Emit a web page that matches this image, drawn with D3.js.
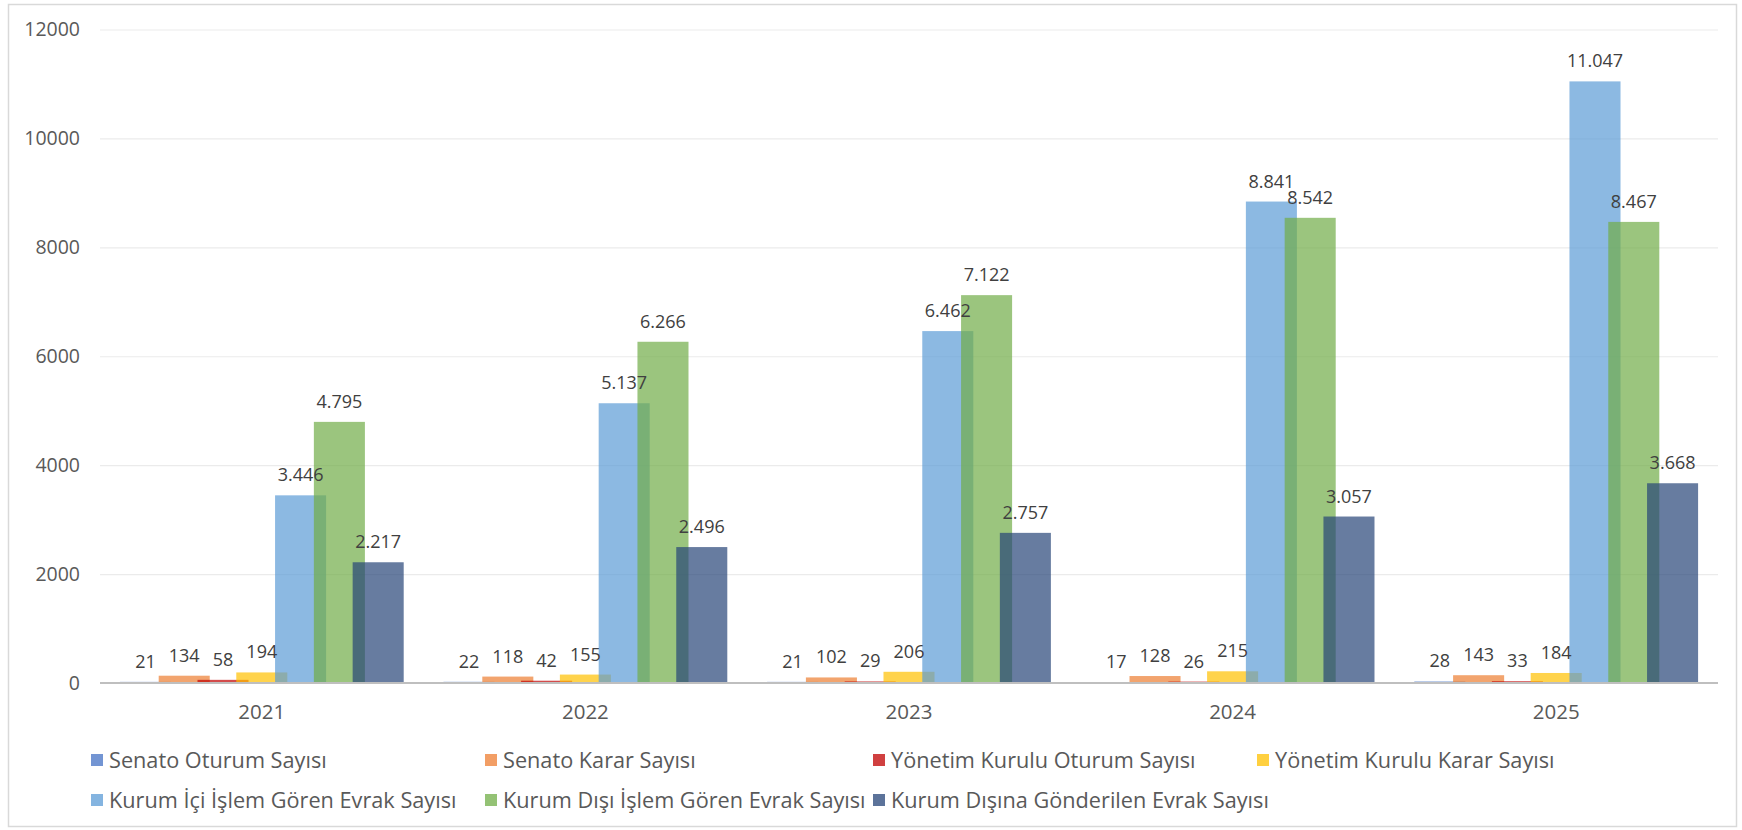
<!DOCTYPE html>
<html lang="tr">
<head>
<meta charset="utf-8">
<script src="https://cdn.jsdelivr.net/npm/d3@7"></script>
<style>
  html, body { margin: 0; padding: 0; background: #fff; }
  svg { display: block; font-family: "Open Sans", "DejaVu Sans", sans-serif; }
</style>
</head>
<body>
<svg id="chart" width="1742" height="830"></svg>
<script>
// Yıllar
const years = ["2021", "2022", "2023", "2024", "2025"];

// Seri adları
const seriesNames = [
  "Senato Oturum Sayısı",
  "Senato Karar Sayısı",
  "Yönetim Kurulu Oturum Sayısı",
  "Yönetim Kurulu Karar Sayısı",
  "Kurum İçi İşlem Gören Evrak Sayısı",
  "Kurum Dışı İşlem Gören Evrak Sayısı",
  "Kurum Dışına Gönderilen Evrak Sayısı"
];

// Seri değerleri (yıllara göre)
const senatoOturum   = [21, 22, 21, 17, 28];
const senatoKarar    = [134, 118, 102, 128, 143];
const ykOturum       = [58, 42, 29, 26, 33];
const ykKarar        = [194, 155, 206, 215, 184];
const kurumIci       = [3446, 5137, 6462, 8841, 11047];
const kurumDisi      = [4795, 6266, 7122, 8542, 8467];
const kurumDisina    = [2217, 2496, 2757, 3057, 3668];

// Y ekseni işaretleri
const yTicks = [0, 2000, 4000, 6000, 8000, 10000, 12000];

const seriesValues = [senatoOturum, senatoKarar, ykOturum, ykKarar, kurumIci, kurumDisi, kurumDisina];
const colors = ["#4472C4", "#ED7D31", "#C00000", "#FFC000", "#5B9BD5", "#70AD47", "#264478"];

const svg = d3.select("#chart");

// Grafik çerçevesi
svg.append("rect")
  .attr("x", 8.5).attr("y", 4.5)
  .attr("width", 1728).attr("height", 822)
  .attr("fill", "#fff").attr("stroke", "#D9D9D9").attr("stroke-width", 1.5);

const plot = { left: 100, right: 1718, top: 29.5, bottom: 683 };

const y = d3.scaleLinear().domain([0, 12000]).range([plot.bottom, plot.top]);
const x0 = d3.scaleBand().domain(years).range([plot.left, plot.right]).padding(0);

// Sütun genişliği: boşluk %78, çakışma %24
const N = seriesNames.length;
const overlap = 0.24, gapWidth = 0.78;
const barW = x0.bandwidth() / (1 + (N - 1) * (1 - overlap) + gapWidth);
const step = barW * (1 - overlap);
const groupW = barW + (N - 1) * step;
const x1 = d3.scalePoint().domain(d3.range(N)).range([0, (N - 1) * step]);
const barX = (si, i) => x0(years[i]) + (x0.bandwidth() - groupW) / 2 + x1(si);

// Izgara çizgileri ve Y ekseni etiketleri
const yAxis = d3.axisLeft(y).tickValues(yTicks).tickSize(-(plot.right - plot.left)).tickPadding(20)
  .tickFormat(d3.format("d"));
const gy = svg.append("g").attr("transform", `translate(${plot.left},0)`).call(yAxis);
gy.select(".domain").remove();
gy.selectAll(".tick line").attr("stroke", "#EBEBEB").attr("stroke-width", 1.2);
gy.selectAll(".tick text").attr("fill", "#595959").attr("font-size", 19.5)
  .attr("font-family", "Open Sans, sans-serif");

// Türkçe sayı biçimi (binlik ayırıcı nokta)
const tr = d3.formatLocale({ decimal: ",", thousands: ".", grouping: [3], currency: ["₺", ""] });
const fmt = tr.format(",d");

// Sütunlar
const barsG = svg.append("g");
seriesValues.forEach((vals, si) => {
  barsG.append("g")
    .selectAll("rect")
    .data(vals)
    .join("rect")
    .attr("x", (d, i) => barX(si, i))
    .attr("y", d => y(d))
    .attr("width", barW)
    .attr("height", d => y(0) - y(d))
    .attr("fill", colors[si])
    .attr("fill-opacity", 0.7);
});

// X ekseni çizgisi
svg.append("line")
  .attr("x1", plot.left).attr("x2", plot.right)
  .attr("y1", y(0)).attr("y2", y(0))
  .attr("stroke", "#BFBFBF").attr("stroke-width", 2);

// Veri etiketleri
const labelsG = svg.append("g");
seriesValues.forEach((vals, si) => {
  labelsG.append("g")
    .selectAll("text")
    .data(vals)
    .join("text")
    .attr("x", (d, i) => barX(si, i) + barW / 2)
    .attr("y", d => y(d) - 14)
    .attr("text-anchor", "middle")
    .attr("font-size", 18)
    .attr("fill", "#404040")
    .text(d => fmt(d));
});

// X ekseni etiketleri
svg.append("g")
  .selectAll("text")
  .data(years)
  .join("text")
  .attr("x", d => x0(d) + x0.bandwidth() / 2)
  .attr("y", 719)
  .attr("text-anchor", "middle")
  .attr("font-size", 20.5)
  .attr("fill", "#595959")
  .text(d => d);

// Gösterge
const legendCols = [91, 485, 873, 1257];
const legendRows = [760, 800];
const legend = svg.append("g")
  .selectAll("g")
  .data(seriesNames)
  .join("g")
  .attr("transform", (d, i) => `translate(${legendCols[i % 4]},${legendRows[Math.floor(i / 4)]})`);
legend.append("rect")
  .attr("x", 0).attr("y", -6).attr("width", 12).attr("height", 12)
  .attr("fill", (d, i) => colors[i]).attr("fill-opacity", 0.75);
legend.append("text")
  .attr("x", 18).attr("y", 0).attr("dy", "0.35em")
  .attr("font-size", 21.7)
  .attr("fill", "#595959")
  .text(d => d);
</script>
</body>
</html>
